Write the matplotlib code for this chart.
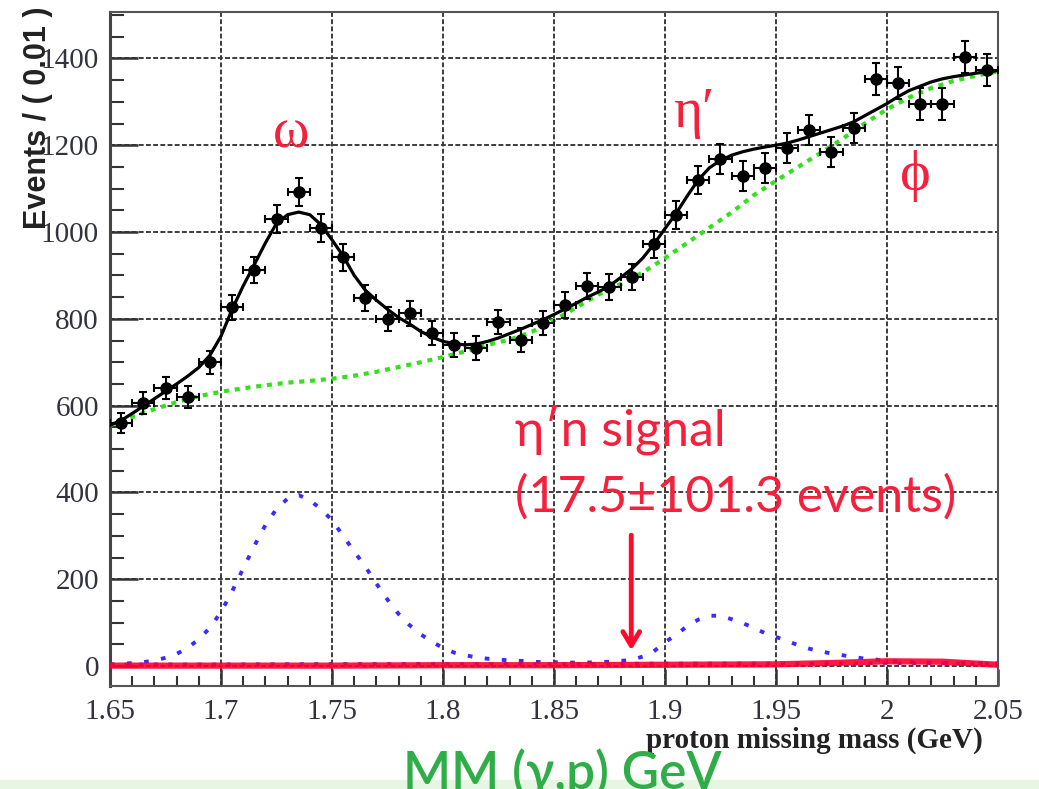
import matplotlib.pyplot as plt
from matplotlib.patches import Rectangle

# binned data (bin width 0.01 GeV)
mass = [1.655, 1.665, 1.675, 1.685, 1.695, 1.705, 1.715, 1.725, 1.735, 1.745,
        1.755, 1.765, 1.775, 1.785, 1.795, 1.805, 1.815, 1.825, 1.835, 1.845,
        1.855, 1.865, 1.875, 1.885, 1.895, 1.905, 1.915, 1.925, 1.935, 1.945,
        1.955, 1.965, 1.975, 1.985, 1.995, 2.005, 2.015, 2.025, 2.035, 2.045]
events = [560, 606, 641, 620, 700, 827, 912, 1030, 1092, 1009,
          942, 848, 800, 813, 767, 740, 733, 793, 751, 790,
          832, 876, 873, 896, 972, 1039, 1120, 1168, 1129, 1147,
          1194, 1235, 1184, 1240, 1353, 1343, 1295, 1295, 1403, 1373]
events_err = [24, 25, 25, 25, 26, 29, 30, 32, 33, 32,
              31, 29, 28, 29, 28, 27, 27, 28, 27, 28,
              29, 30, 30, 30, 31, 32, 33, 34, 34, 34,
              35, 35, 34, 35, 37, 37, 36, 36, 37, 37]

# fit curves sampled every 0.005 GeV
fine_mass = [1.650, 1.655, 1.660, 1.665, 1.670, 1.675, 1.680, 1.685, 1.690, 1.695,
             1.700, 1.705, 1.710, 1.715, 1.720, 1.725, 1.730, 1.735, 1.740, 1.745,
             1.750, 1.755, 1.760, 1.765, 1.770, 1.775, 1.780, 1.785, 1.790, 1.795,
             1.800, 1.805, 1.810, 1.815, 1.820, 1.825, 1.830, 1.835, 1.840, 1.845,
             1.850, 1.855, 1.860, 1.865, 1.870, 1.875, 1.880, 1.885, 1.890, 1.895,
             1.900, 1.905, 1.910, 1.915, 1.920, 1.925, 1.930, 1.935, 1.940, 1.945,
             1.950, 1.955, 1.960, 1.965, 1.970, 1.975, 1.980, 1.985, 1.990, 1.995,
             2.000, 2.005, 2.010, 2.015, 2.020, 2.025, 2.030, 2.035, 2.040, 2.045, 2.050]
total_fit = [555, 566, 582, 599, 616, 633, 650, 668, 688, 716,
             760, 822, 876, 925, 975, 1020, 1040, 1046, 1040, 1017,
             982, 945, 900, 866, 843, 822, 803, 788, 771, 758,
             748, 743, 740, 742, 748, 756, 766, 776, 787, 798,
             810, 823, 836, 850, 862, 876, 895, 915, 940, 972,
             1008, 1043, 1083, 1120, 1148, 1165, 1177, 1185, 1191, 1196,
             1200, 1205, 1212, 1220, 1228, 1236, 1244, 1254, 1268, 1282,
             1296, 1312, 1326, 1336, 1346, 1353, 1358, 1362, 1366, 1369, 1372]
peaks = [3, 5, 7, 9, 13, 19, 28, 42, 62, 88,
         125, 172, 225, 277, 325, 362, 386, 394, 382, 362,
         336, 300, 264, 229, 190, 153, 120, 94, 73, 56,
         42, 31, 25, 20, 17, 15, 13, 12, 10, 9,
         9, 8, 8, 8, 9, 10, 12, 14, 22, 34,
         55, 72, 92, 107, 116, 116, 108, 99, 88, 76,
         67, 58, 48, 40, 34, 29, 25, 21, 17, 15,
         12, 10, 9, 9, 8, 8, 7, 7, 7, 7, 6]

bkg_mass = [1.65, 1.66, 1.67, 1.68, 1.69, 1.70, 1.71, 1.72, 1.73, 1.74,
            1.75, 1.76, 1.77, 1.78, 1.79, 1.80, 1.81, 1.82, 1.83, 1.84,
            1.85, 1.86, 1.87, 1.88, 1.89, 1.90, 1.91, 1.92, 1.93, 1.94,
            1.95, 1.96, 1.97, 1.98, 1.99, 2.00, 2.01, 2.02, 2.03, 2.04, 2.05]
background = [555, 574, 592, 608, 622, 632, 640, 647, 653, 657,
              662, 669, 678, 689, 700, 712, 725, 740, 752, 770,
              797, 826, 856, 880, 907, 940, 975, 1010, 1045, 1085,
              1118, 1150, 1182, 1215, 1250, 1283, 1310, 1332, 1348, 1360, 1370]

coarse_mass = [1.65, 1.70, 1.75, 1.80, 1.85, 1.90, 1.95, 1.975, 2.00, 2.025, 2.05]
etap_n_signal = [1, 1, 1, 2, 2, 3, 4, 7, 11, 10, 3]
peak_base = [4, 4, 5, 5, 5, 6, 6, 6, 7, 6, 5]

xticks = [1.65, 1.7, 1.75, 1.8, 1.85, 1.9, 1.95, 2.0, 2.05]
xticklabels = ['1.65', '1.7', '1.75', '1.8', '1.85', '1.9', '1.95', '2', '2.05']
yticks = [0, 200, 400, 600, 800, 1000, 1200, 1400]
yticklabels = ['0', '200', '400', '600', '800', '1000', '1200', '1400']

serif = ['Liberation Serif', 'DejaVu Serif']
sans = ['Lato', 'DejaVu Sans']
red = '#f5203c'

fig = plt.figure(figsize=(10.39, 7.89), dpi=100)
ax = fig.add_axes([0.1059, 0.1305, 0.8546, 0.8543])

ax.plot(bkg_mass, background, color='#33e01a', lw=3, ls=(0, (1.2, 1.4)), zorder=3)
ax.plot(coarse_mass, peak_base, color='#3a2cff', lw=2.5, ls=(0, (1.2, 3.0)), zorder=3)
ax.plot(fine_mass, peaks, color='#3a2cff', lw=2.8, ls=(0, (1.2, 3.2)), zorder=3)
ax.plot(coarse_mass, etap_n_signal, color='#ff0030', lw=4.5, alpha=0.9, zorder=4)
ax.plot(fine_mass, total_fit, color='black', lw=2.3, zorder=5)
ax.errorbar(mass, events, yerr=events_err, xerr=0.005, fmt='o', color='black',
            ms=8, elinewidth=1.5, capsize=3, capthick=1.5, zorder=6)

ax.set_xlim(1.65, 2.05)
ax.set_ylim(-46, 1507)
ax.set_xticks(xticks)
ax.set_xticklabels(xticklabels, family=serif, fontsize=21, color='#333340')
ax.set_yticks(yticks)
ax.set_yticklabels(yticklabels, family=serif, fontsize=21, color='#333340')
ax.set_xticks([x / 100 for x in range(165, 206)], minor=True)
ax.set_yticks([y for y in range(0, 1501, 50)], minor=True)
ax.tick_params(axis='y', which='major', direction='in', length=20, width=1.8, pad=8, color='#333333')
ax.tick_params(axis='y', which='minor', direction='in', length=10, width=1.5, color='#333333')
ax.tick_params(axis='x', which='major', direction='in', length=12, width=1.8, pad=9, color='#333333')
ax.tick_params(axis='x', which='minor', direction='in', length=7, width=1.5, color='#333333')
ax.grid(True, which='major', color='#3c3c3c', lw=1.4, ls=(0, (2.5, 1.2)))
ax.set_axisbelow(True)
for side in ['top', 'right', 'bottom']:
    ax.spines[side].set_color('#555555')
    ax.spines[side].set_linewidth(1.5)
ax.spines['left'].set_color('#444444')
ax.spines['left'].set_linewidth(2.2)

fig.text(0.037, 0.992, 'Events / ( 0.01 )', rotation=90, ha='center', va='top',
         family=['Liberation Sans', 'DejaVu Sans'], fontweight='bold', fontsize=22, color='#222222')
fig.text(0.946, 0.052, 'proton missing mass (GeV)', ha='right', va='baseline',
         family=serif, fontweight='bold', fontsize=21, color='#222222')

# annotations
ax.text(1.7315, 1194, 'ω', color=red, family=serif, fontsize=40, ha='center', va='baseline')
ax.text(1.9036, 1242, 'η′', color=red, family=serif, fontsize=40, ha='left', va='baseline')
ax.text(2.0126, 1097, 'ϕ', color=red, family=serif, fontsize=42, ha='center', va='baseline')
ax.text(1.8324, 509, 'η′n signal', color=red, family=sans, fontsize=36, ha='left', va='baseline')
ax.text(1.8324, 355, '(17.5±101.3 events)', color=red, family=sans, fontsize=36, ha='left', va='baseline')
ax.annotate('', xy=(1.8848, 30), xytext=(1.8848, 308),
            arrowprops=dict(arrowstyle='->,head_length=1.0,head_width=0.6', color='#ff0a2a', lw=3.5))

fig.text(0.388, 0.0, 'MM (γ,p) GeV', color='#2fae48', family=sans, fontweight='semibold',
         fontsize=37, ha='left', va='baseline')
fig.patches.append(Rectangle((0, 0), 1, 0.011, transform=fig.transFigure, color='#e6f6e2', zorder=-1))

fig.savefig('out.png', dpi=100)
